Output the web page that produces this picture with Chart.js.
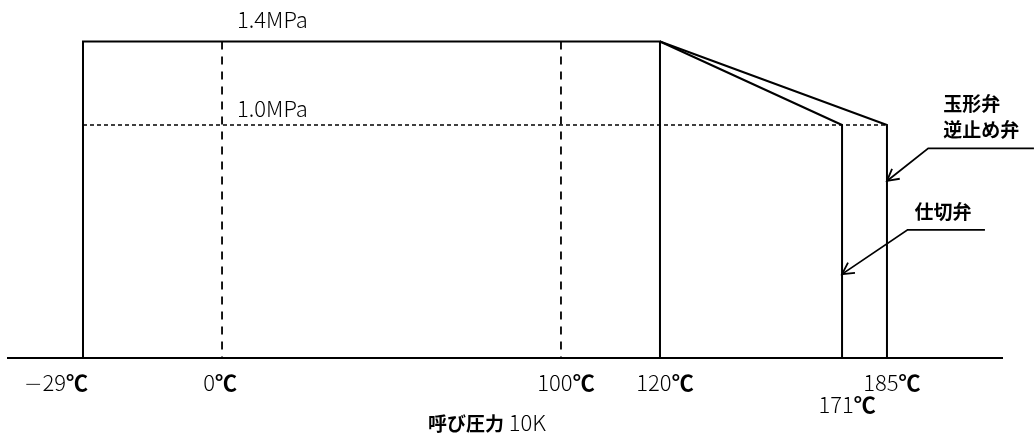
<!DOCTYPE html>
<html lang="ja">
<head>
<meta charset="utf-8">
<script src="https://cdn.jsdelivr.net/npm/chart.js@4.4.1/dist/chart.umd.min.js"></script>
<style>
    html, body { margin: 0; padding: 0; background: #fff; }
    #wrap { width: 1035px; height: 437px; }
</style>
</head>
<body>
<div id="wrap"><canvas id="chart" width="1035" height="437"></canvas></div>
<script>
// temperature (℃) ticks under the axis, 171 sits on a second row
const tempTicks = [-29, 0, 100, 120, 171, 185];
const tempTickRow = [0, 0, 0, 0, 1, 0];

// pressure levels (MPa)
const pressureLevels = [1.4, 1.0];
const pressureLabels = ['1.4MPa', '1.0MPa'];

// common rating frame: -29℃ .. 120℃ at 1.4MPa
const frameTemps = [-29, -29, 120, 120];
const framePressures = [0, 1.4, 1.4, 0];

// 仕切弁: drops to 1.0MPa at 171℃
const gateTemps = [120, 171, 171];
const gatePressures = [1.4, 1.0, 0];

// 玉形弁 / 逆止め弁: drops to 1.0MPa at 185℃
const globeTemps = [120, 185, 185];
const globePressures = [1.4, 1.0, 0];

// dotted 1.0MPa level and dashed guides at 0℃ / 100℃
const levelTemps = [-29, 185];
const guideTemps = [0, 100];

// leader lines (tip, elbow, end of underline)
const globeLeaderTemps = [185, 201, 242];
const globeLeaderPressures = [0.76, 0.90, 0.90];
const gateLeaderTemps = [171, 193, 223];
const gateLeaderPressures = [0.36, 0.55, 0.55];

const titleBold = '呼び圧力';
const titleLight = ' 10K';

const zip = (xs, ys) => xs.map((x, i) => ({ x: x, y: ys[i] }));

// the drawing is not to scale, so the axes are piecewise linear
class PiecewiseScale extends Chart.LinearScale {
    static id = 'piecewise';
    static defaults = Chart.LinearScale.defaults;

    toDecimal(v) {
        const b = this.options.breaks;
        const s = this.options.stops;
        let i = 1;
        while (i < b.length - 1 && v > b[i]) i++;
        const t = (v - b[i - 1]) / (b[i] - b[i - 1]);
        return s[i - 1] + t * (s[i] - s[i - 1]);
    }

    getPixelForValue(value) {
        return value === null ? NaN : this.getPixelForDecimal(this.toDecimal(value));
    }

    getValueForPixel(pixel) {
        const d = this.getDecimalForPixel(pixel);
        const b = this.options.breaks;
        const s = this.options.stops;
        let i = 1;
        while (i < s.length - 1 && d > s[i]) i++;
        const t = (d - s[i - 1]) / (s[i] - s[i - 1]);
        return b[i - 1] + t * (b[i] - b[i - 1]);
    }
}
Chart.register(PiecewiseScale);

const LIGHT = '300 22px "Noto Sans CJK JP", "Noto Sans", sans-serif';
const MINUS = '200 22px "DejaVu Sans", sans-serif';
const BOLD = 'bold 22px "Noto Sans CJK JP", "Noto Sans", sans-serif';
const LABEL = 'bold 19px "Noto Sans CJK JP", sans-serif';

function drawParts(ctx, parts, x, y, align) {
    let total = 0;
    parts.forEach((p) => {
        ctx.font = p.font;
        p.w = ctx.measureText(p.text).width;
        total += p.w;
    });
    let cx = align === 'right' ? x - total : align === 'center' ? x - total / 2 : x;
    ctx.textAlign = 'left';
    ctx.textBaseline = 'alphabetic';
    parts.forEach((p) => {
        ctx.font = p.font;
        ctx.fillText(p.text, cx, y);
        cx += p.w;
    });
}

const leaderText = {
    3: { lines: ['玉形弁', '逆止め弁'], dx: 15, dy: -11, gap: 26 },
    4: { lines: ['仕切弁'], dx: 7, dy: -11, gap: 26 },
};

const decorations = {
    id: 'decorations',
    afterDatasetsDraw(chart) {
        const ctx = chart.ctx;
        const xs = chart.scales.x;
        const ys = chart.scales.y;
        const area = chart.chartArea;
        ctx.save();
        ctx.fillStyle = '#000';
        ctx.strokeStyle = '#000';

        // base axis line
        const y0 = ys.getPixelForValue(0);
        ctx.lineWidth = 2;
        ctx.beginPath();
        ctx.moveTo(area.left, y0);
        ctx.lineTo(area.right, y0);
        ctx.stroke();

        // arrow heads + labels on leader lines
        Object.keys(leaderText).forEach((idx) => {
            const pts = chart.getDatasetMeta(+idx).data;
            const tip = pts[0], elbow = pts[1];
            const ang = Math.atan2(tip.y - elbow.y, tip.x - elbow.x);
            const len = 13, spread = 0.5;
            ctx.lineWidth = 1.8;
            ctx.beginPath();
            ctx.moveTo(tip.x - len * Math.cos(ang - spread), tip.y - len * Math.sin(ang - spread));
            ctx.lineTo(tip.x, tip.y);
            ctx.lineTo(tip.x - len * Math.cos(ang + spread), tip.y - len * Math.sin(ang + spread));
            ctx.stroke();

            const cfg = leaderText[idx];
            ctx.font = LABEL;
            ctx.textAlign = 'left';
            ctx.textBaseline = 'alphabetic';
            const n = cfg.lines.length;
            cfg.lines.forEach((line, i) => {
                ctx.fillText(line, elbow.x + cfg.dx, elbow.y + cfg.dy - (n - 1 - i) * cfg.gap);
            });
        });

        // pressure labels
        const px0 = xs.getPixelForValue(0);
        const labelDy = [-13, -8];
        pressureLevels.forEach((p, i) => {
            drawParts(ctx, [{ text: pressureLabels[i], font: LIGHT }], px0 + 15, ys.getPixelForValue(p) + labelDy[i], 'left');
        });

        // temperature ticks
        tempTicks.forEach((t, i) => {
            const px = xs.getPixelForValue(t);
            const py = y0 + (tempTickRow[i] ? 55 : 33);
            const parts = [];
            if (t < 0) parts.push({ text: '−', font: MINUS });
            parts.push({ text: String(Math.abs(t)), font: LIGHT });
            parts.push({ text: '℃', font: BOLD });
            if (t < 0) drawParts(ctx, parts, px + 5, py, 'right');
            else if (t === 0) drawParts(ctx, parts, px - 2, py, 'center');
            else drawParts(ctx, parts, px + 5, py, 'center');
        });

        // title under the axis
        drawParts(ctx, [
            { text: titleBold, font: 'bold 19px "Noto Sans CJK JP", sans-serif' },
            { text: titleLight, font: '300 22px "Noto Sans CJK JP", "Noto Sans", sans-serif' },
        ], 487, 431, 'center');

        ctx.restore();
    },
};

const solid = { borderColor: '#000', borderWidth: 2, pointRadius: 0, fill: false, tension: 0, clip: false };

new Chart(document.getElementById('chart'), {
    type: 'line',
    data: {
        datasets: [
            { ...solid, label: 'frame', data: zip(frameTemps, framePressures) },
            { ...solid, label: '仕切弁', data: zip(gateTemps, gatePressures) },
            { ...solid, label: '玉形弁', data: zip(globeTemps, globePressures) },
            { ...solid, label: 'leader-globe', borderWidth: 1.8, data: zip(globeLeaderTemps, globeLeaderPressures) },
            { ...solid, label: 'leader-gate', borderWidth: 1.8, data: zip(gateLeaderTemps, gateLeaderPressures) },
            { ...solid, label: '1.0MPa', borderWidth: 1.5, borderDash: [4, 3],
              data: levelTemps.map((t) => ({ x: t, y: 1.0 })) },
            ...guideTemps.map((t) => ({
                ...solid, label: t + '℃', borderWidth: 1.8, borderDash: [8, 7],
                data: [{ x: t, y: 1.4 }, { x: t, y: 0 }],
            })),
        ],
    },
    options: {
        responsive: false,
        animation: false,
        events: [],
        layout: { padding: { left: 7, right: 32, top: 10, bottom: 79 } },
        plugins: { legend: { display: false }, tooltip: { enabled: false } },
        scales: {
            x: {
                type: 'piecewise',
                display: false,
                min: -50,
                max: 230,
                breaks: [-50, -29, 0, 100, 120, 171, 185, 230],
                stops: [0, 0.0763, 0.2159, 0.5562, 0.6556, 0.8384, 0.8835, 1],
            },
            y: {
                type: 'piecewise',
                display: false,
                min: 0,
                max: 1.6,
                breaks: [0, 1.0, 1.4, 1.6],
                stops: [0, 0.6695, 0.9095, 1],
            },
        },
    },
    plugins: [decorations],
});
</script>
</body>
</html>
